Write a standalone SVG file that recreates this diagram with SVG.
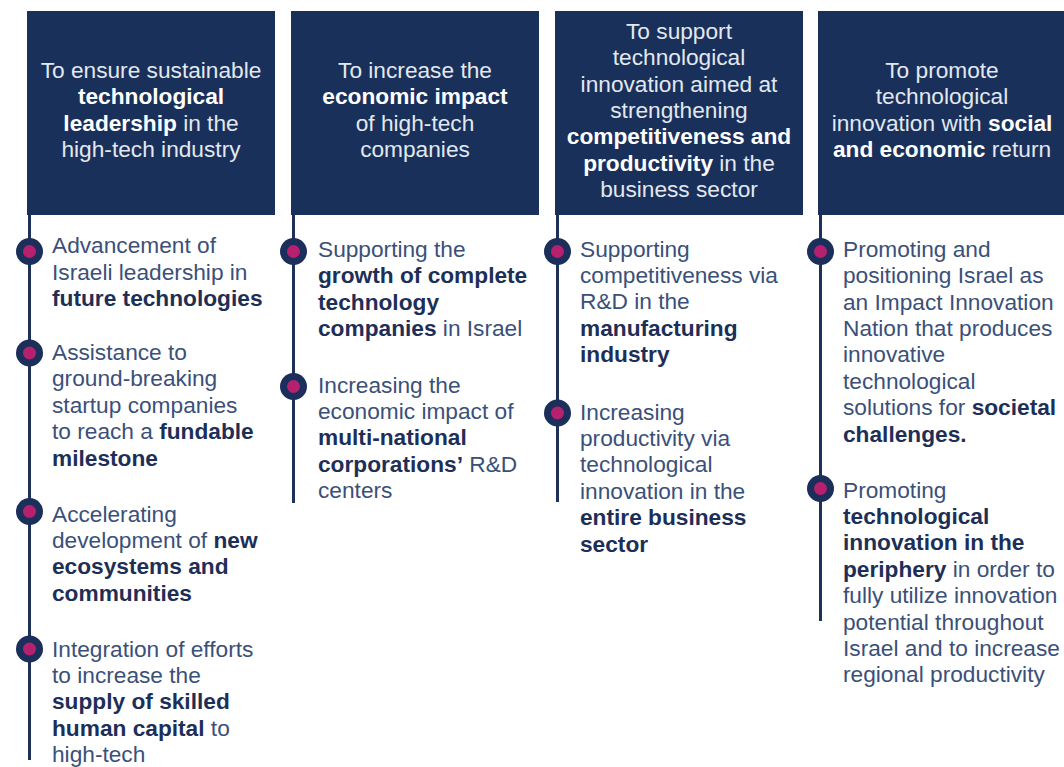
<svg xmlns="http://www.w3.org/2000/svg" width="1064" height="767" viewBox="0 0 1064 767">
<style>
.box{fill:#19305a}
.hd{font-family:"Liberation Sans",Arial,sans-serif;font-size:22.7px;fill:#e3e8f0;text-anchor:middle}
.tx{font-family:"Liberation Sans",Arial,sans-serif;font-size:22.7px;fill:#3a5079}
.b{font-weight:bold}
.tx .b{fill:#1d2f57}
.hd .b{fill:#ffffff}
.ln{stroke:#1d3159;stroke-width:3;fill:none}
.dot-o{fill:#1b2f5a}
.dot-i{fill:#b5216f}
</style>
<defs>
<g id="bullet"><circle class="dot-o" r="13.5"/><circle class="dot-i" r="6.5"/></g>
</defs>
<rect width="1064" height="767" fill="#ffffff"/>
<g id="connectors">
<line class="ln" x1="29.5" y1="214" x2="29.5" y2="760"/>
<line class="ln" x1="293.5" y1="214" x2="293.5" y2="503"/>
<line class="ln" x1="557.5" y1="214" x2="557.5" y2="502"/>
<line class="ln" x1="820.5" y1="214" x2="820.5" y2="621"/>
</g>
<g id="col1">
<rect class="box" x="27" y="11" width="248" height="204"/>
<text class="hd"><tspan x="151" y="78">To ensure sustainable</tspan><tspan x="151" y="104.4" class="b">technological</tspan><tspan x="151" y="130.8"><tspan class="b">leadership</tspan> in the</tspan><tspan x="151" y="157.2">high-tech industry</tspan></text>
<use href="#bullet" x="29.5" y="251.5"/>
<text class="tx"><tspan x="52" y="253.3">Advancement of</tspan><tspan x="52" y="279.7">Israeli leadership in</tspan><tspan x="52" y="306.1" class="b">future technologies</tspan></text>
<use href="#bullet" x="29.5" y="353"/>
<text class="tx"><tspan x="52" y="360">Assistance to</tspan><tspan x="52" y="386.4">ground-breaking</tspan><tspan x="52" y="412.8">startup companies</tspan><tspan x="52" y="439.2">to reach a <tspan class="b">fundable</tspan></tspan><tspan x="52" y="465.6" class="b">milestone</tspan></text>
<use href="#bullet" x="29.5" y="511.5"/>
<text class="tx"><tspan x="52" y="521.5">Accelerating</tspan><tspan x="52" y="547.9">development of <tspan class="b">new</tspan></tspan><tspan x="52" y="574.3" class="b">ecosystems and</tspan><tspan x="52" y="600.7" class="b">communities</tspan></text>
<use href="#bullet" x="29.5" y="649"/>
<text class="tx"><tspan x="52" y="656.5">Integration of efforts</tspan><tspan x="52" y="682.9">to increase the</tspan><tspan x="52" y="709.3" class="b">supply of skilled</tspan><tspan x="52" y="735.7"><tspan class="b">human capital</tspan> to</tspan><tspan x="52" y="762.1">high-tech</tspan></text>
</g>
<g id="col2">
<rect class="box" x="291" y="11" width="248" height="204"/>
<text class="hd"><tspan x="415" y="78">To increase the</tspan><tspan x="415" y="104.4" class="b">economic impact</tspan><tspan x="415" y="130.8">of high-tech</tspan><tspan x="415" y="157.2">companies</tspan></text>
<use href="#bullet" x="293.5" y="251.5"/>
<text class="tx"><tspan x="318" y="256.7">Supporting the</tspan><tspan x="318" y="283.1" class="b">growth of complete</tspan><tspan x="318" y="309.5" class="b">technology</tspan><tspan x="318" y="335.9"><tspan class="b">companies</tspan> in Israel</tspan></text>
<use href="#bullet" x="293.5" y="386.5"/>
<text class="tx"><tspan x="318" y="392.5">Increasing the</tspan><tspan x="318" y="418.9">economic impact of</tspan><tspan x="318" y="445.3" class="b">multi-national</tspan><tspan x="318" y="471.7"><tspan class="b">corporations’</tspan> R&amp;D</tspan><tspan x="318" y="498.1">centers</tspan></text>
</g>
<g id="col3">
<rect class="box" x="555" y="11" width="248" height="204"/>
<text class="hd"><tspan x="679" y="39">To support</tspan><tspan x="679" y="65.3">technological</tspan><tspan x="679" y="91.6">innovation aimed at</tspan><tspan x="679" y="117.9">strengthening</tspan><tspan x="679" y="144.2" class="b">competitiveness and</tspan><tspan x="679" y="170.5"><tspan class="b">productivity</tspan> in the</tspan><tspan x="679" y="196.8">business sector</tspan></text>
<use href="#bullet" x="557.5" y="251.5"/>
<text class="tx"><tspan x="580" y="256.5">Supporting</tspan><tspan x="580" y="282.9">competitiveness via</tspan><tspan x="580" y="309.3">R&amp;D in the</tspan><tspan x="580" y="335.7" class="b">manufacturing</tspan><tspan x="580" y="362.1" class="b">industry</tspan></text>
<use href="#bullet" x="557.5" y="413"/>
<text class="tx"><tspan x="580" y="419.5">Increasing</tspan><tspan x="580" y="445.9">productivity via</tspan><tspan x="580" y="472.3">technological</tspan><tspan x="580" y="498.7">innovation in the</tspan><tspan x="580" y="525.1" class="b">entire business</tspan><tspan x="580" y="551.5" class="b">sector</tspan></text>
</g>
<g id="col4">
<rect class="box" x="818" y="11" width="250" height="204"/>
<text class="hd"><tspan x="942" y="78">To promote</tspan><tspan x="942" y="104.4">technological</tspan><tspan x="942" y="130.8">innovation with <tspan class="b">social</tspan></tspan><tspan x="942" y="157.2"><tspan class="b">and economic</tspan> return</tspan></text>
<use href="#bullet" x="820.5" y="251.5"/>
<text class="tx"><tspan x="843" y="256.7">Promoting and</tspan><tspan x="843" y="283.1">positioning Israel as</tspan><tspan x="843" y="309.5">an Impact Innovation</tspan><tspan x="843" y="335.9">Nation that produces</tspan><tspan x="843" y="362.3">innovative</tspan><tspan x="843" y="388.7">technological</tspan><tspan x="843" y="415.1">solutions for <tspan class="b">societal</tspan></tspan><tspan x="843" y="441.5" class="b">challenges.</tspan></text>
<use href="#bullet" x="820.5" y="488.5"/>
<text class="tx"><tspan x="843" y="497.5">Promoting</tspan><tspan x="843" y="523.9" class="b">technological</tspan><tspan x="843" y="550.3" class="b">innovation in the</tspan><tspan x="843" y="576.7"><tspan class="b">periphery</tspan> in order to</tspan><tspan x="843" y="603.1">fully utilize innovation</tspan><tspan x="843" y="629.5">potential throughout</tspan><tspan x="843" y="655.9">Israel and to increase</tspan><tspan x="843" y="682.3">regional productivity</tspan></text>
</g>
</svg>
